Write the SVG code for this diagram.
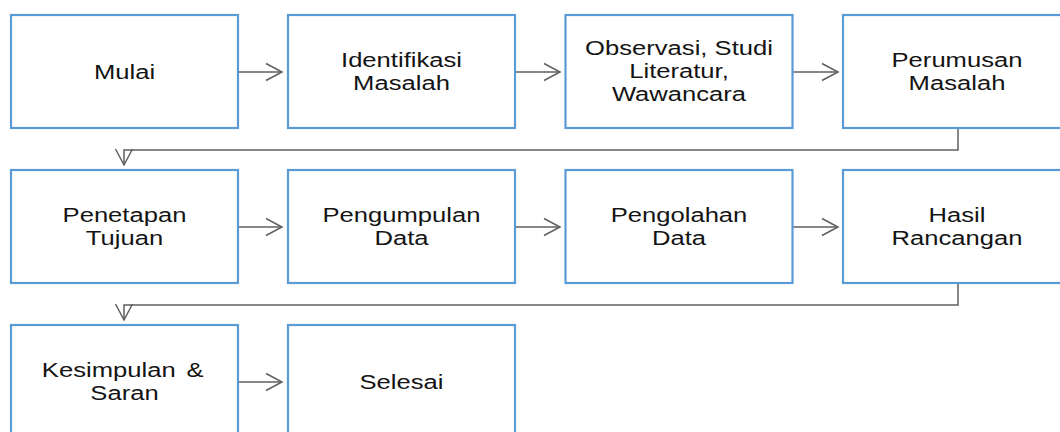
<svg xmlns="http://www.w3.org/2000/svg" width="1060" height="432" viewBox="0 0 1060 432">
<style>
.box{fill:#ffffff;stroke:#5b9bd5;stroke-width:2.2}
.lbl{font-family:"Liberation Sans",Arial,sans-serif;font-size:21px;fill:#141414;text-anchor:middle}
.con{fill:none;stroke:#5f5f5f;stroke-width:1.5;marker-end:url(#arr)}
</style>
<defs>
<marker id="arr" markerUnits="userSpaceOnUse" markerWidth="24" markerHeight="24" viewBox="-20 -12 24 24" refX="0" refY="0" orient="auto">
<path d="M-16,-8.5 L0,0 L-16,8.5" fill="none" stroke="#5f5f5f" stroke-width="1.5"/>
</marker>
</defs>
<rect width="1060" height="432" fill="#ffffff"/>
<g id="connectors">
<path class="con" d="M238,72 H282"/>
<path class="con" d="M515,72 H560"/>
<path class="con" d="M792.5,72 H838"/>
<path class="con" d="M958,128 V150 H124 V165"/>
<path class="con" d="M238,227 H282"/>
<path class="con" d="M515,227 H560"/>
<path class="con" d="M792.5,227 H838"/>
<path class="con" d="M958,283 V305 H124 V320"/>
<path class="con" d="M238,382 H282"/>
</g>
<g id="n1"><rect class="box" x="11" y="15" width="227" height="113"/>
<text class="lbl" transform="translate(124.5,0) scale(1.22,1)"><tspan x="0" y="79">Mulai</tspan></text></g>
<g id="n2"><rect class="box" x="288" y="15" width="227" height="113"/>
<text class="lbl" transform="translate(401.5,0) scale(1.22,1)"><tspan x="0" y="67">Identifikasi</tspan><tspan x="0" y="90">Masalah</tspan></text></g>
<g id="n3"><rect class="box" x="565.5" y="15" width="227" height="113"/>
<text class="lbl" transform="translate(679,0) scale(1.22,1)"><tspan x="0" y="55.5">Observasi, Studi</tspan><tspan x="0" y="78.5">Literatur,</tspan><tspan x="0" y="101.5">Wawancara</tspan></text></g>
<g id="n4"><rect class="box" x="843" y="15" width="227" height="113"/>
<text class="lbl" transform="translate(957,0) scale(1.22,1)"><tspan x="0" y="67">Perumusan</tspan><tspan x="0" y="90">Masalah</tspan></text></g>
<g id="n5"><rect class="box" x="11" y="170" width="227" height="113"/>
<text class="lbl" transform="translate(124.5,0) scale(1.22,1)"><tspan x="0" y="222">Penetapan</tspan><tspan x="0" y="245">Tujuan</tspan></text></g>
<g id="n6"><rect class="box" x="288" y="170" width="227" height="113"/>
<text class="lbl" transform="translate(401.5,0) scale(1.22,1)"><tspan x="0" y="222">Pengumpulan</tspan><tspan x="0" y="245">Data</tspan></text></g>
<g id="n7"><rect class="box" x="565.5" y="170" width="227" height="113"/>
<text class="lbl" transform="translate(679,0) scale(1.22,1)"><tspan x="0" y="222">Pengolahan</tspan><tspan x="0" y="245">Data</tspan></text></g>
<g id="n8"><rect class="box" x="843" y="170" width="227" height="113"/>
<text class="lbl" transform="translate(957,0) scale(1.22,1)"><tspan x="0" y="222">Hasil</tspan><tspan x="0" y="245">Rancangan</tspan></text></g>
<g id="n9"><rect class="box" x="11" y="325" width="227" height="113"/>
<text class="lbl" transform="translate(124.5,0) scale(1.22,1)"><tspan x="-1.5" y="377">Kesimpulan <tspan dx="3">&amp;</tspan></tspan><tspan x="0" y="400">Saran</tspan></text></g>
<g id="n10"><rect class="box" x="288" y="325" width="227" height="113"/>
<text class="lbl" transform="translate(401.5,0) scale(1.22,1)"><tspan x="0" y="389">Selesai</tspan></text></g>
</svg>
